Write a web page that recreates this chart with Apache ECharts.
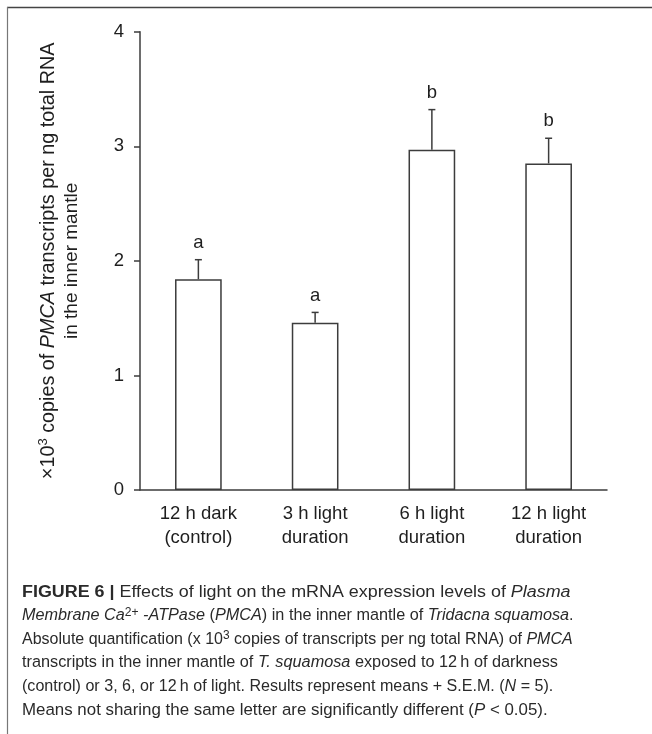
<!DOCTYPE html>
<html>
<head>
<meta charset="utf-8">
<script src="https://cdn.jsdelivr.net/npm/echarts@6/dist/echarts.min.js"></script>
<style>
html,body{margin:0;padding:0;background:#fff;}
#chart{width:652px;height:734px;}
</style>
</head>
<body>
<div id="chart"></div>
<script>
// ---- data ----
const categories = ['12 h dark\n(control)', '3 h light\nduration', '6 h light\nduration', '12 h light\nduration'];
const means = [1.84, 1.46, 2.97, 2.85];
const sem = [0.17, 0.09, 0.35, 0.22];
const letters = ['a', 'a', 'b', 'b'];
const yTicks = [0, 1, 2, 3, 4];

const FONT = '"Liberation Sans", Arial, Helvetica, sans-serif';
const CAP_FONT = '"Liberation Sans", Arial, Helvetica, sans-serif';
const TXT = '#1e1e1e';
const AX = '#3c3c3c';
const CAP_SIZE = 16.8;

const chart = echarts.init(document.getElementById('chart'), null, {renderer: 'canvas'});

const capRich = {
  n: {fontFamily: CAP_FONT, fontSize: CAP_SIZE, color: '#2a2a2a', lineHeight: 20},
  i: {fontFamily: CAP_FONT, fontSize: CAP_SIZE, fontStyle: 'italic', color: '#2a2a2a', lineHeight: 20},
  b: {fontFamily: CAP_FONT, fontSize: CAP_SIZE, fontWeight: 'bold', color: '#1a1a1a', lineHeight: 20},
  s: {fontFamily: CAP_FONT, fontSize: 12.5, color: '#2a2a2a', lineHeight: 12, verticalAlign: 'top'}
};
const captionLines = [
  '{b|FIGURE 6 |}{n| Effects of light on the mRNA expression levels of }{i|Plasma}',
  '{i|Membrane Ca}{s|2+}{i| -ATPase}{n| (}{i|PMCA}{n|) in the inner mantle of }{i|Tridacna squamosa}{n|.}',
  '{n|Absolute quantification (x 10}{s|3}{n| copies of transcripts per ng total RNA) of }{i|PMCA}',
  '{n|transcripts in the inner mantle of }{i|T. squamosa}{n| exposed to 12\u2009h of darkness}',
  '{n|(control) or 3, 6, or 12\u2009h of light. Results represent means + S.E.M. (}{i|N}{n| = 5).}',
  '{n|Means not sharing the same letter are significantly different (}{i|P}{n| < 0.05).}'
];
const captionStretch = [1.066, 0.967, 0.953, 0.969, 0.958, 1.006];
const capTop = 592, capStep = 23.6;
const graphics = [
  {type: 'line', shape: {x1: 7, y1: 7.5, x2: 652, y2: 7.5}, style: {stroke: '#444', lineWidth: 1.5}, silent: true},
  {type: 'line', shape: {x1: 7.5, y1: 7, x2: 7.5, y2: 734}, style: {stroke: '#777', lineWidth: 1.2}, silent: true}
];
captionLines.forEach((t, k) => {
  graphics.push({
    type: 'text', x: 22, y: capTop + k * capStep, scaleX: captionStretch[k],
    style: {text: t, rich: capRich, fill: '#2a2a2a', font: CAP_SIZE + 'px ' + CAP_FONT,
      align: 'left', verticalAlign: 'middle'}
  });
});

const option = {
  backgroundColor: '#fff',
  animation: false,
  grid: {left: 140, right: 45, top: 31.7, bottom: 244, containLabel: false, outerBoundsMode: 'none'},
  xAxis: {
    type: 'category',
    data: categories,
    axisLine: {lineStyle: {color: AX, width: 1.5}},
    axisTick: {show: false},
    axisLabel: {color: TXT, fontFamily: FONT, fontSize: 18.5, lineHeight: 24, margin: 12, interval: 0}
  },
  yAxis: {
    type: 'value',
    min: 0, max: 4, interval: 1,
    splitLine: {show: false},
    axisLine: {show: true, lineStyle: {color: AX, width: 1.5}},
    axisTick: {show: true, length: 6, lineStyle: {color: AX, width: 1.5}},
    axisLabel: {color: TXT, fontFamily: FONT, fontSize: 18.5, margin: 16,
      formatter: v => yTicks.indexOf(v) >= 0 ? String(v) : ''},
    name: '{m|×10}{s|3}{m| copies of }{j|PMCA}{m| transcripts per ng total RNA}\n{n|in the inner mantle}',
    nameLocation: 'middle',
    nameRotate: 90,
    nameGap: 57,
    nameTextStyle: {
      align: 'center',
      lineHeight: 23,
      rich: {
        m: {fontFamily: FONT, fontSize: 19.8, color: TXT, lineHeight: 23},
        j: {fontFamily: FONT, fontSize: 19.8, color: TXT, fontStyle: 'italic', lineHeight: 23},
        n: {fontFamily: FONT, fontSize: 19, color: TXT, lineHeight: 23},
        s: {fontFamily: FONT, fontSize: 13, color: TXT, lineHeight: 14, verticalAlign: 'top'}
      }
    }
  },
  series: [
    {
      type: 'bar',
      data: means,
      barWidth: '40%',
      itemStyle: {color: '#ffffff', borderColor: AX, borderWidth: 1.5},
      z: 2
    },
    {
      type: 'custom',
      data: means.map((m, i) => [i, m, sem[i]]),
      z: 3,
      renderItem: function (params, api) {
        const i = api.value(0), m = api.value(1), e = api.value(2);
        const p0 = api.coord([i, m]);
        const p1 = api.coord([i, m + e]);
        const st = {stroke: AX, lineWidth: 1.5};
        return {
          type: 'group',
          children: [
            {type: 'line', shape: {x1: p0[0], y1: p0[1], x2: p1[0], y2: p1[1]}, style: st},
            {type: 'line', shape: {x1: p1[0] - 3.5, y1: p1[1], x2: p1[0] + 3.5, y2: p1[1]}, style: st},
            {type: 'text', x: p1[0], y: p1[1] - 17,
              style: {text: letters[params.dataIndex], fill: TXT, font: '18.5px ' + FONT, align: 'center', verticalAlign: 'middle'}}
          ]
        };
      }
    }
  ],
  graphic: graphics
};
chart.setOption(option);
</script>
</body>
</html>
